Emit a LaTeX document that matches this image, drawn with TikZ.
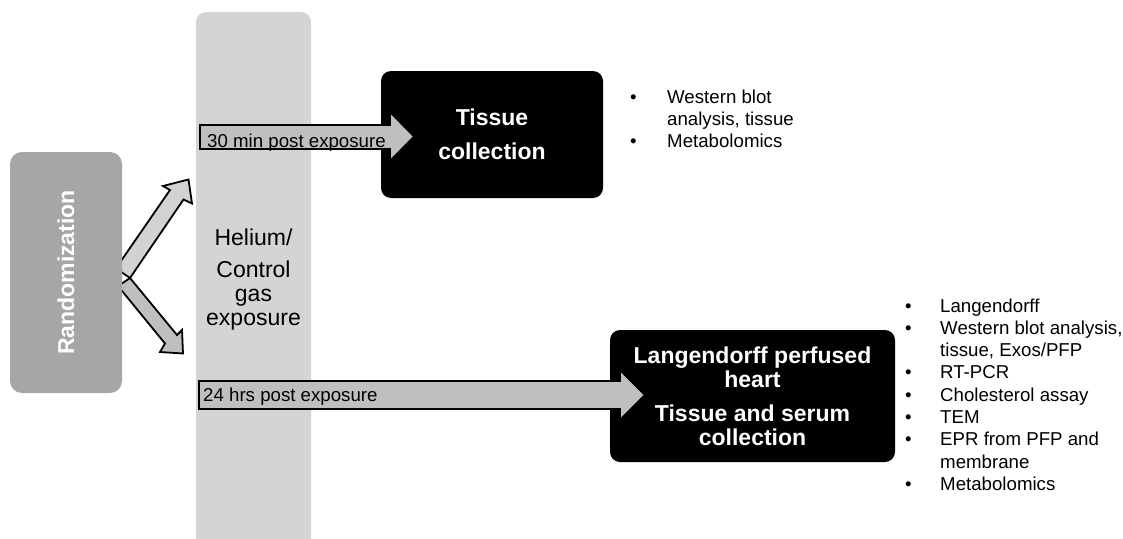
\documentclass[tikz,border=0pt]{standalone}
\usepackage{fontspec}
\setmainfont{Liberation Sans}
\definecolor{bargray}{HTML}{D4D4D4}
\definecolor{randgray}{HTML}{A6A6A6}
\definecolor{arrgray}{HTML}{BFBFBF}
\definecolor{arrlight}{HTML}{D2D2D2}
\begin{document}
\begin{tikzpicture}[x=1pt,y=-1pt,
  blk/.style={fill=black, rounded corners=10pt, text=white, font=\bfseries\fontsize{23}{24}\selectfont, align=center, inner sep=0pt},
  barr/.style={draw=black, line width=1.8pt, fill=arrgray, line join=miter},
  lbl/.style={font=\fontsize{18.67}{22.3}\selectfont, anchor=base west, inner sep=0pt},
]
\useasboundingbox (0,0) rectangle (1123,538);

% gas exposure bar
\fill[bargray, rounded corners=10pt] (196,540) -- (196,12) -- (311,12) -- (311,540);
\node[font=\fontsize{23}{24}\selectfont, align=center, inner sep=0pt] (gas) at (253.5,279.7)
  {Helium/\\[8pt]Control\\gas\\exposure};

% randomization arrows
\draw[barr, fill=arrlight] (118,265.3) -- (170,190) -- (163,186) -- (188.5,179.5) -- (192,203.5) -- (183.5,199.5) -- (130,278) -- (118,269.8) -- cycle;
\draw[barr] (130,278) -- (177,335) -- (182,330) -- (183,353.5) -- (160,352) -- (165,343.5) -- (118,286) -- cycle;

% randomization box
\node[fill=randgray, rounded corners=12pt, rotate=90, minimum width=241, minimum height=112,
  text=white, font=\bfseries\fontsize{23}{24}\selectfont, inner sep=0pt] (rand) at (66,272.5) {Randomization};

% result boxes
\node[blk, minimum width=222, minimum height=127] (tc) at (492,134.5) {Tissue\\[10pt]collection};
\node[blk, minimum width=285, minimum height=132] (lh) at (752.5,396)
  {Langendorff perfused\\heart\\[10pt]Tissue and serum\\collection};

% horizontal block arrows
\draw[barr] (200,125) -- (390,125) -- (390,112) -- (414,136.5) -- (390,161) -- (390,149) -- (200,149) -- cycle;
\node[lbl] (l30) at (207,147.3) {30 min post exposure};
\draw[barr] (199,381) -- (620,381) -- (620,370) -- (645,395) -- (620,420) -- (620,409) -- (199,409) -- cycle;
\node[lbl] (l24) at (203,401) {24 hrs post exposure};

% top list
\node[lbl] (ta) at (630,103) {•};
\node[lbl] (t1) at (667,103) {Western blot};
\node[lbl] (t2) at (667,125) {analysis, tissue};
\node[lbl] (tb) at (630,147) {•};
\node[lbl] (t3) at (667,147) {Metabolomics};

% bottom list
\node[lbl] (ba) at (905,312) {•};
\node[lbl] (b1) at (940,312) {Langendorff};
\node[lbl] (bb) at (905,334.3) {•};
\node[lbl] (b2) at (940,334.3) {Western blot analysis,};
\node[lbl] (b3) at (940,356.6) {tissue, Exos/PFP};
\node[lbl] (bc) at (905,378.9) {•};
\node[lbl] (b4) at (940,378.9) {RT-PCR};
\node[lbl] (bd) at (905,401.2) {•};
\node[lbl] (b5) at (940,401.2) {Cholesterol assay};
\node[lbl] (be) at (905,423.5) {•};
\node[lbl] (b6) at (940,423.5) {TEM};
\node[lbl] (bf) at (905,445.8) {•};
\node[lbl] (b7) at (940,445.8) {EPR from PFP and};
\node[lbl] (b8) at (940,468.1) {membrane};
\node[lbl] (bg) at (905,490.4) {•};
\node[lbl] (b9) at (940,490.4) {Metabolomics};
\end{tikzpicture}
\end{document}
